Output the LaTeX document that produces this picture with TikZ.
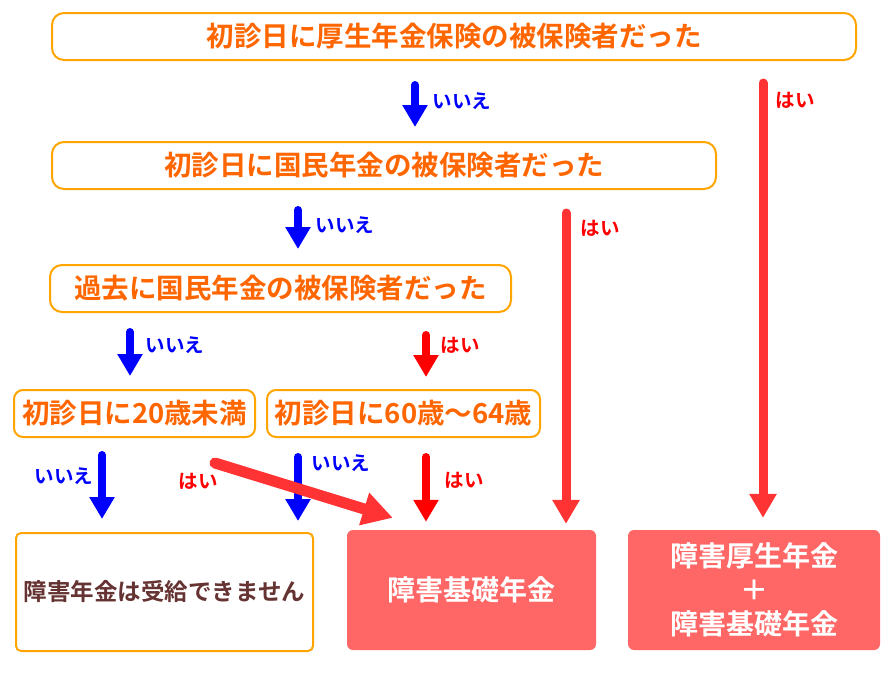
\documentclass[tikz,border=0pt]{standalone}
\usepackage{fontspec}
\setmainfont{Noto Sans CJK JP}[BoldFont={Noto Sans CJK JP Bold}]
\usetikzlibrary{arrows.meta}
\definecolor{boxline}{HTML}{FFA500}
\definecolor{qtext}{HTML}{FF6600}
\definecolor{resfill}{HTML}{FF6666}
\definecolor{notext}{HTML}{663333}
\definecolor{arrred}{HTML}{FF3333}
\definecolor{lblue}{HTML}{0000FF}
\definecolor{lred}{HTML}{FF0000}
\tikzset{
  qbox/.style={draw=boxline, line width=2pt, rounded corners=12pt, fill=white,
    text=qtext, font=\fontsize{27.5}{32}\selectfont\bfseries, inner sep=0pt, minimum height=47pt},
  qsmall/.style={qbox, rounded corners=9pt},
  nobox/.style={draw=boxline, line width=2pt, rounded corners=5pt, fill=white,
    text=notext, font=\fontsize{23.5}{28}\selectfont\bfseries, inner sep=0pt},
  resbox/.style={fill=resfill, rounded corners=6pt, text=white,
    font=\fontsize{28}{34}\selectfont\bfseries, inner sep=0pt, align=center},
  noarrow/.style={draw=lblue, line width=8pt, line cap=round, -{Triangle[width=24pt,length=22pt]}},
  yesshort/.style={draw=lred, line width=8pt, line cap=round, -{Triangle[width=24pt,length=22pt]}},
  yeslong/.style={draw=arrred, line width=9pt, line cap=round, -{Triangle[width=26pt,length=24pt]}},
  yesdiag/.style={draw=arrred, line width=11pt, line cap=round, -{Triangle[width=32pt,length=30pt]}},
  nolbl/.style={text=lblue, font=\fontsize{19.5}{21}\selectfont\bfseries, inner sep=0pt},
  yeslbl/.style={text=lred, font=\fontsize{19.5}{21}\selectfont\bfseries, inner sep=0pt},
}
\begin{document}
\begin{tikzpicture}[x=1pt,y=-1pt]
\useasboundingbox[fill=white] (0,0) rectangle (892,673);

\node[qbox, minimum width=804pt] (q1) at (454,36.5) {初診日に厚生年金保険の被保険者だった};
\node[qbox, minimum width=664pt] (q2) at (384,165.5) {初診日に国民年金の被保険者だった};
\node[qbox, minimum width=461pt] (q3) at (280.5,288.5) {過去に国民年金の被保険者だった};
\node[qsmall, minimum width=241pt] (q4) at (134.5,413.5) {初診日に20歳未満};
\node[qsmall, minimum width=273pt] (q5) at (403.5,413.5) {初診日に60歳～64歳};

\node[nobox, minimum width=297pt, minimum height=118pt] (r0) at (164.5,592) {障害年金は受給できません};
\node[resbox, minimum width=249pt, minimum height=120pt] (r1) at (471.5,590) {障害基礎年金};
\node[resbox, minimum width=252pt, minimum height=120pt] (r2) at (754,590) {障害厚生年金\\＋\\障害基礎年金};

\coordinate (x415) at (415,0);
\coordinate (x763) at (763,0);
\coordinate (x298) at (298,0);
\coordinate (x566) at (566,0);
\coordinate (x130) at (130,0);
\coordinate (x426) at (426,0);
\coordinate (x102) at (102,0);

\draw[noarrow, shorten <=24pt, shorten >=14pt] (q1.south -| x415) -- (q2.north -| x415);
\draw[yeslong, shorten <=22pt, shorten >=12pt] (q1.south -| x763) -- (r2.north -| x763);
\draw[noarrow, shorten <=20pt, shorten >=15pt] (q2.south -| x298) -- (q3.north -| x298);
\draw[yeslong, shorten <=23pt, shorten >=6pt] (q2.south -| x566) -- (r1.north -| x566);
\draw[noarrow, shorten <=19pt, shorten >=13pt] (q3.south -| x130) -- (q4.north -| x130);
\draw[yesshort, shorten <=22pt, shorten >=12pt] (q3.south -| x426) -- (q5.north -| x426);
\draw[noarrow, shorten <=17pt, shorten >=13pt] (q4.south -| x102) -- (r0.north -| x102);
\draw[noarrow, shorten <=19pt, shorten >=11pt] (q5.south -| x298) -- (r0.north -| x298);
\draw[yesshort, shorten <=19pt, shorten >=8pt] (q5.south -| x426) -- (r1.north -| x426);
\draw[yesdiag] ([xshift=80.5pt, yshift=-25pt]q4.south) -- ([xshift=46pt, yshift=12pt]r1.north west);

\node[nolbl] (l1) at (462,101) {いいえ};
\node[yeslbl] (l2) at (795,100) {はい};
\node[nolbl] (l3) at (345,225) {いいえ};
\node[yeslbl] (l4) at (600,228) {はい};
\node[nolbl] (l5) at (175,345) {いいえ};
\node[yeslbl] (l6) at (460,345) {はい};
\node[nolbl] (l7) at (64,476) {いいえ};
\node[yeslbl] (l8) at (198,481) {はい};
\node[nolbl] (l9) at (341,463) {いいえ};
\node[yeslbl] (l10) at (464,480) {はい};
\end{tikzpicture}
\end{document}
